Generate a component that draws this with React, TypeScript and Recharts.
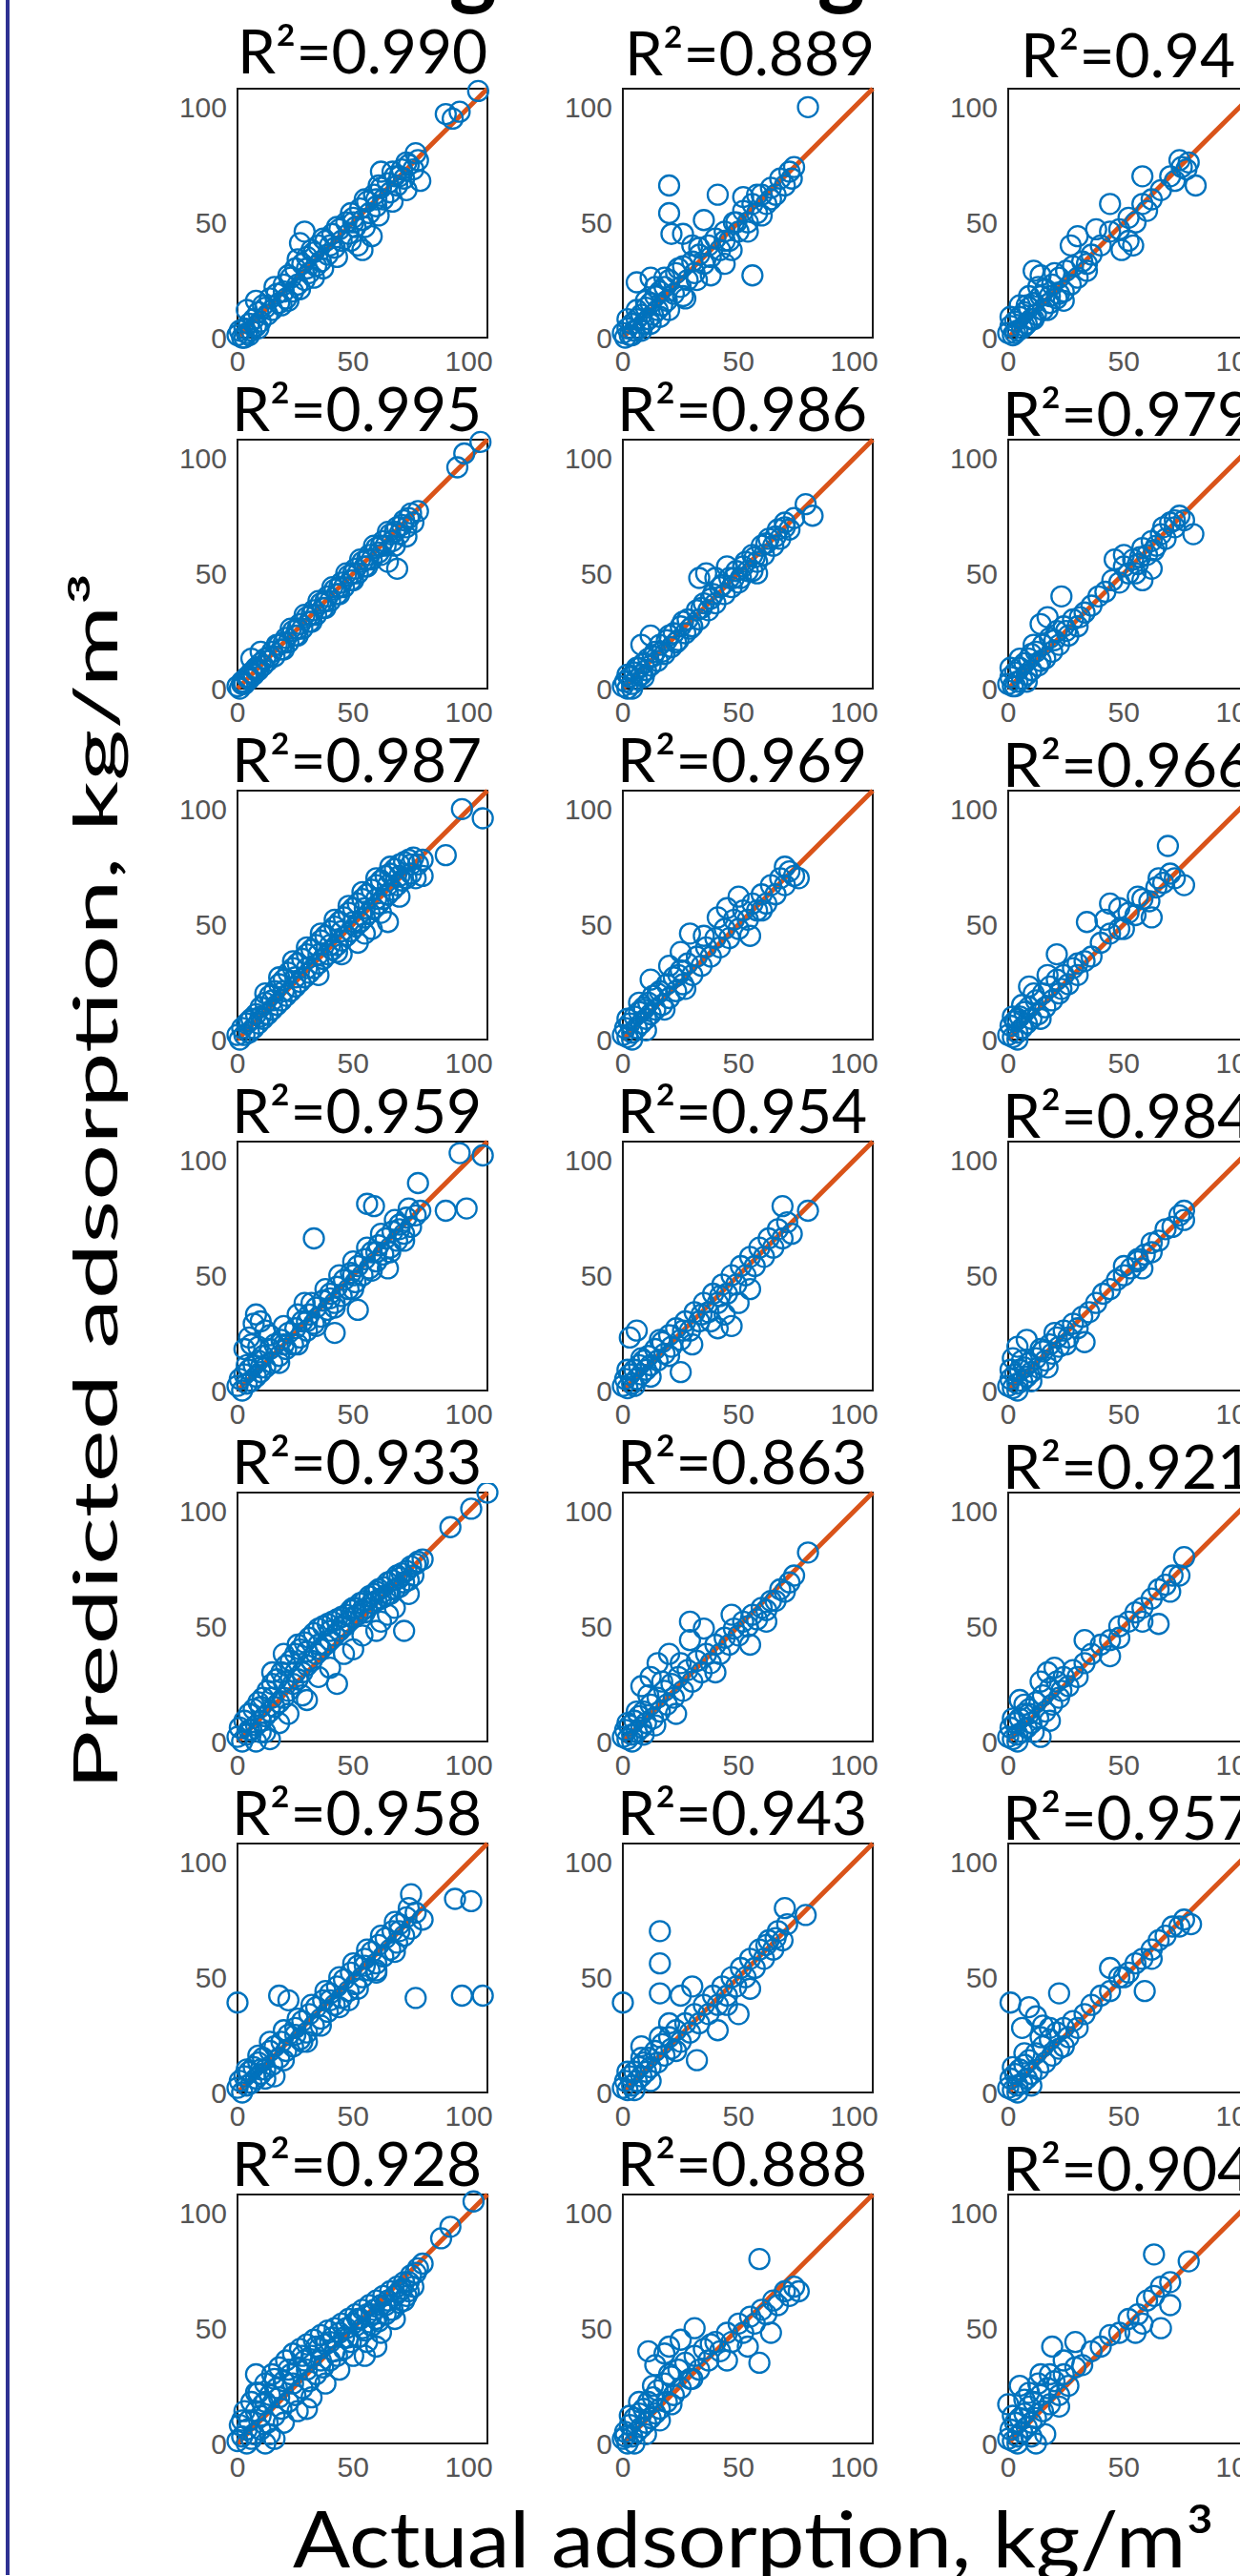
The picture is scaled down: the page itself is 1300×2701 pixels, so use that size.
import React from "react";
import {
  ScatterChart,
  Scatter,
  XAxis,
  YAxis,
  ReferenceArea,
  ReferenceLine,
} from "recharts";

type Pt = [number, number];

// axis settings shared by all 21 panels
const AXIS_MAX = 108;
const TICKS = [0, 50, 100];

const R2 = [
  "0.990", "0.889", "0.94",
  "0.995", "0.986", "0.979",
  "0.987", "0.969", "0.966",
  "0.959", "0.954", "0.984",
  "0.933", "0.863", "0.921",
  "0.958", "0.943", "0.957",
  "0.928", "0.888", "0.904",
];

const P11: Pt[] = [[0,1],[1,3],[2,0],[3,4],[4,2],[5,6],[6,3],[7,8],[8,5],[9,11],[10,7],[12,13],[13,10],[14,17],[15,12],[17,19],[18,15],[20,23],[21,17],[23,26],[24,20],[25,30],[26,23],[28,32],[29,25],[30,35],[31,28],[33,37],[34,31],[35,40],[36,33],[38,42],[39,36],[41,45],[42,39],[44,47],[45,42],[47,50],[48,45],[50,52],[51,48],[53,56],[54,51],[56,59],[57,54],[59,62],[60,57],[62,65],[63,60],[65,67],[66,63],[68,70],[69,66],[71,73],[72,69],[74,75],[76,73],[78,77],[29,46],[27,41],[58,44],[54,38],[52,40],[62,72],[79,68],[90,97],[93,95],[96,98],[104,107],[8,16],[4,12],
  [3,0],[5,1],[9,4],[11,14],[16,22],[19,14],[22,27],[22,16],[26,34],[27,21],[32,38],[33,26],[37,43],[37,30],[43,48],[43,35],[49,54],[49,42],[55,60],[55,48],[61,66],[61,53],[67,72],[67,59],[73,76],[73,64],[77,80],[20,20],[30,30],[40,40],[50,50],[60,60],[70,70]];
const P12: Pt[] = [[0,2],[1,0],[2,4],[3,1],[4,6],[5,3],[6,8],[7,4],[8,10],[9,6],[10,13],[11,8],[12,15],[13,10],[14,18],[15,12],[16,20],[17,14],[18,22],[19,16],[20,25],[22,19],[23,28],[25,22],[26,31],[28,25],[30,33],[31,28],[33,36],[35,32],[37,40],[38,35],[40,43],[42,38],[44,46],[46,42],[48,50],[50,46],[52,55],[54,50],[56,58],[58,54],[60,62],[62,58],[64,65],[66,62],[68,69],[70,66],[72,72],[73,69],[74,74],[20,66],[20,54],[21,45],[26,45],[41,62],[35,51],[56,27],[6,24],[44,32],[38,27],[49,50],[60,53],[64,60],[52,61],[58,62],[33,39],[32,25],[27,17],[44,42],[80,100],[12,26],[30,40],[47,38],[54,46],
  [2,8],[4,1],[6,12],[8,3],[10,16],[12,6],[14,22],[16,9],[18,26],[20,12],[24,30],[26,18]];
const P13: Pt[] = [[0,2],[1,5],[2,1],[3,7],[4,3],[5,9],[6,4],[7,11],[8,6],[9,13],[10,8],[11,15],[12,10],[14,18],[15,12],[16,21],[18,15],[19,23],[21,17],[22,26],[24,20],[25,29],[27,23],[28,31],[30,26],[32,33],[34,29],[36,36],[40,40],[44,46],[48,47],[52,52],[55,50],[58,58],[62,60],[66,64],[70,70],[72,68],[75,74],[78,76],[58,70],[44,58],[81,66],[49,38],[54,40],[52,42],[27,40],[30,44],[14,27],[11,29],[77,73],[74,77],[60,55],[38,47],[34,32],[22,19],[18,18],[8,14],
  [1,9],[3,2],[5,14],[7,5],[9,18],[11,8],[13,22],[17,12],[20,28],[24,16]];

const P21: Pt[] = [[0,1],[1,0],[2,3],[3,2],[4,5],[5,4],[6,7],[7,6],[8,9],[9,8],[10,11],[11,10],[12,13],[13,12],[15,16],[16,14],[18,19],[19,17],[21,22],[22,20],[24,25],[25,23],[27,28],[28,26],[30,31],[31,29],[33,34],[34,32],[36,37],[37,35],[39,40],[40,38],[42,43],[43,41],[45,46],[46,44],[48,49],[49,47],[51,52],[52,50],[54,55],[55,53],[57,58],[58,56],[60,61],[61,59],[63,64],[64,62],[66,67],[67,64],[69,70],[70,67],[72,73],[73,70],[75,76],[76,72],[78,77],[69,52],[65,55],[73,66],[95,96],[98,102],[105,107],[10,16],[6,13],
  [2,2],[5,5],[8,8],[14,14],[20,20],[26,26],[32,32],[38,38],[44,44],[50,50],[56,56],[62,62],[68,68],[74,74],[17,19],[23,26],[29,32],[35,38],[41,44],[47,50],[53,56],[59,62],[65,68],[71,71],[20,17],[26,23],[32,29],[38,35],[44,41],[50,47],[56,53],[62,58],[68,62]];
const P22: Pt[] = [[0,1],[1,3],[2,0],[3,5],[4,2],[5,7],[6,4],[7,9],[8,6],[9,11],[10,8],[11,13],[12,10],[14,16],[15,12],[16,19],[18,15],[19,21],[21,18],[22,24],[24,21],[25,27],[27,24],[28,30],[30,27],[32,34],[33,30],[35,37],[37,34],[39,41],[40,37],[42,44],[44,41],[46,48],[47,44],[49,51],[51,48],[53,55],[54,51],[56,58],[58,55],[60,62],[61,58],[63,65],[65,62],[67,69],[68,65],[70,72],[72,69],[74,74],[79,80],[82,75],[33,48],[36,50],[12,23],[8,19],[56,51],[50,46],[45,53],[40,48],[58,50],
  [2,6],[4,0],[6,9],[9,5],[13,14],[17,16],[20,23],[23,20],[26,29],[29,26],[34,35],[38,39],[43,45],[48,48],[52,53],[57,57],[62,63],[66,66],[70,70]];
const P23: Pt[] = [[0,2],[1,5],[2,1],[3,7],[4,3],[5,9],[6,4],[7,11],[8,6],[9,13],[10,8],[12,16],[13,10],[15,19],[16,13],[18,22],[19,16],[21,25],[22,19],[24,27],[26,23],[28,30],[30,27],[33,33],[36,36],[39,40],[42,42],[45,47],[48,46],[50,53],[52,50],[54,56],[56,54],[58,61],[60,58],[62,64],[64,62],[66,67],[68,65],[70,72],[72,70],[74,75],[76,73],[10,15],[17,31],[23,40],[14,28],[80,67],[72,73],[55,50],[58,47],[62,52],[50,58],[46,56],
  [1,9],[3,1],[5,13],[8,3],[11,19],[14,12],[20,21],[25,25],[31,31],[57,57],[63,60],[67,70]];

const P31: Pt[] = [[0,2],[1,0],[2,5],[3,2],[4,7],[5,3],[6,9],[7,5],[8,11],[9,7],[10,14],[11,9],[12,16],[13,11],[14,19],[15,13],[16,21],[17,15],[18,24],[19,17],[20,26],[21,19],[22,29],[23,21],[24,31],[25,23],[26,33],[27,25],[28,35],[29,27],[30,37],[31,29],[32,39],[33,31],[34,41],[35,33],[36,43],[37,35],[38,45],[39,37],[40,47],[41,39],[42,49],[43,41],[44,51],[45,43],[46,53],[47,45],[48,55],[49,47],[50,57],[51,49],[52,59],[53,51],[54,61],[55,53],[56,63],[57,55],[58,65],[59,57],[60,67],[61,59],[62,69],[63,61],[64,71],[65,63],[66,72],[67,65],[68,74],[69,67],[70,76],[71,69],[72,77],[73,70],[74,78],[75,72],[76,79],[78,76],[80,78],[97,100],[106,96],[90,80],[77,70],[65,51],[43,38],[58,48],[52,42],[80,71],
  [5,8],[10,10],[15,17],[20,21],[25,27],[30,31],[35,37],[40,41],[45,47],[50,51],[55,57],[60,61],[65,67],[70,71],[75,76],[12,20],[18,27],[24,34],[30,40],[36,46],[42,52],[48,58],[54,64],[60,70],[66,75],[35,28],[45,37],[55,46],[62,55],[70,62]];
const P32: Pt[] = [[0,2],[1,5],[2,1],[3,7],[4,3],[5,10],[6,5],[7,12],[8,7],[9,14],[10,9],[11,16],[12,11],[13,19],[14,13],[16,21],[17,15],[19,24],[20,18],[22,27],[23,21],[25,30],[26,24],[28,33],[30,28],[32,36],[34,32],[36,40],[38,36],[40,44],[42,40],[44,48],[46,44],[48,52],[50,48],[52,56],[54,52],[56,59],[58,56],[60,63],[62,59],[64,67],[66,63],[68,70],[70,67],[72,73],[74,71],[76,70],[70,75],[50,62],[55,45],[25,38],[29,46],[41,53],[12,26],[9,13],[45,57],[60,56],[35,45],[20,32],
  [2,9],[4,0],[7,16],[10,4],[15,20],[18,13],[24,28],[27,22]];
const P33: Pt[] = [[0,2],[1,6],[2,1],[3,8],[4,3],[5,10],[6,5],[7,12],[8,7],[9,14],[10,9],[12,17],[13,11],[15,20],[16,14],[18,23],[19,17],[21,26],[22,20],[24,28],[26,24],[28,31],[30,28],[33,34],[36,36],[40,42],[44,46],[48,48],[52,55],[55,54],[58,61],[61,60],[64,66],[67,68],[70,72],[72,70],[69,84],[76,67],[34,51],[44,59],[56,62],[62,53],[50,48],[21,37],[30,33],[9,23],[4,9],[48,57],[65,70],[42,52],
  [2,10],[4,0],[6,15],[11,20],[14,9],[17,28],[23,22]];

const P41: Pt[] = [[0,2],[1,5],[2,0],[3,7],[4,3],[5,9],[6,4],[7,11],[8,6],[9,13],[10,8],[11,15],[12,10],[14,18],[15,12],[16,20],[18,15],[19,22],[21,18],[22,25],[24,20],[25,27],[27,23],[28,30],[30,26],[31,33],[33,29],[34,36],[36,32],[37,39],[39,35],[40,42],[42,38],[43,45],[45,41],[46,48],[48,44],[49,51],[51,47],[52,54],[54,50],[55,57],[57,53],[58,60],[60,56],[61,63],[63,59],[64,66],[66,62],[67,69],[69,65],[70,72],[72,68],[73,75],[75,71],[77,76],[79,78],[96,103],[106,102],[78,90],[56,81],[59,80],[90,78],[99,79],[33,66],[65,53],[52,35],[42,25],[29,38],[8,33],[5,23],[7,29],[10,30],[12,26],[3,18],[6,20],
  [4,11],[9,19],[14,24],[20,28],[26,33],[32,38],[38,44],[44,50],[50,56],[56,62],[62,68],[68,74],[74,79],[18,12],[26,20],[34,28],[42,36],[50,44],[58,52],[66,60],[72,65],[10,10],[20,20],[30,30],[40,40],[50,50],[60,60],[70,70]];
const P42: Pt[] = [[0,2],[1,5],[2,1],[3,7],[4,3],[5,9],[6,5],[7,11],[8,7],[9,13],[10,9],[11,15],[12,11],[14,18],[15,13],[17,21],[18,16],[20,24],[21,19],[23,27],[25,22],[27,30],[29,26],[31,34],[33,30],[35,38],[37,34],[39,42],[41,38],[43,46],[45,42],[47,50],[49,46],[51,54],[53,50],[55,58],[57,54],[59,62],[61,58],[63,66],[65,62],[67,70],[69,66],[71,73],[69,80],[80,78],[55,44],[47,28],[25,8],[3,23],[6,26],[41,27],[44,33],[50,38],[38,30],[30,20],[73,68],
  [2,9],[5,2],[8,14],[12,6],[16,22],[20,15],[26,26],[34,33],[42,41]];
const P43: Pt[] = [[0,2],[1,5],[2,1],[3,7],[4,3],[5,9],[6,4],[7,10],[8,6],[9,12],[10,8],[12,14],[13,10],[15,17],[16,13],[18,20],[19,16],[21,23],[22,19],[24,26],[26,23],[28,29],[30,27],[32,32],[35,34],[38,38],[41,42],[44,44],[47,48],[50,50],[53,53],[56,57],[59,59],[62,64],[65,65],[68,70],[71,71],[74,76],[76,74],[76,78],[56,56],[33,21],[4,19],[2,14],[8,22],[58,53],[50,54],[62,60],
  [1,9],[4,0],[6,13],[10,4],[14,18],[17,10],[20,25],[25,20]];

const P51: Pt[] = [[0,2],[1,6],[2,0],[3,9],[4,3],[5,12],[6,5],[7,14],[8,7],[9,17],[10,9],[11,19],[12,11],[13,22],[14,13],[15,25],[16,15],[17,27],[18,17],[19,30],[20,19],[21,33],[22,22],[23,35],[24,25],[25,38],[26,27],[27,40],[28,30],[29,43],[30,33],[31,45],[32,35],[33,47],[34,38],[35,49],[36,40],[37,50],[38,42],[39,51],[40,44],[41,52],[42,46],[43,53],[44,48],[45,54],[46,50],[47,55],[48,52],[49,57],[50,54],[51,58],[52,55],[53,60],[54,57],[55,61],[56,58],[57,63],[58,60],[59,64],[60,61],[61,66],[62,62],[63,67],[64,63],[65,69],[66,64],[67,70],[68,66],[69,72],[70,67],[71,73],[72,69],[73,74],[74,70],[75,76],[76,72],[78,78],[80,79],[108,108],[101,101],[92,93],[77,77],[72,48],[43,25],[14,1],[10,4],[18,8],[30,18],[20,38],[26,42],[35,28],[50,40],[60,48],[65,55],[8,0],[15,30],
  [5,5],[10,15],[15,19],[20,26],[25,30],[30,39],[35,42],[40,48],[45,50],[50,58],[55,56],[60,65],[65,64],[70,71],[12,4],[22,12],[28,20],[40,32],[46,38],[54,46],[62,52],[68,58],[74,64]];
const P52: Pt[] = [[0,2],[1,5],[2,1],[3,7],[4,3],[5,9],[6,4],[7,11],[8,6],[9,13],[10,8],[12,16],[13,10],[15,19],[16,13],[18,22],[19,16],[21,25],[22,19],[24,28],[26,22],[28,31],[30,26],[32,35],[34,30],[36,38],[38,34],[40,42],[42,38],[44,45],[46,42],[48,49],[50,46],[52,52],[54,50],[56,55],[58,53],[60,58],[62,57],[64,61],[66,61],[68,66],[70,65],[72,69],[74,72],[80,82],[55,42],[23,12],[29,44],[35,49],[29,52],[15,34],[47,55],[8,24],[12,28],[40,30],[62,52],[20,38],
  [2,8],[4,0],[6,13],[9,3],[11,20],[14,7],[17,26],[25,34]];
const P53: Pt[] = [[0,2],[1,6],[2,1],[3,8],[4,3],[5,10],[6,4],[7,12],[8,6],[9,14],[10,8],[12,17],[13,10],[15,20],[16,13],[18,23],[19,16],[21,26],[22,19],[24,28],[26,24],[28,31],[30,28],[33,34],[36,38],[40,42],[44,44],[48,50],[52,52],[55,56],[58,58],[62,62],[65,66],[68,68],[71,72],[74,72],[76,80],[65,51],[33,44],[44,37],[18,9],[9,12],[14,26],[5,18],[20,32],[48,45],[58,52],[70,65],
  [2,10],[4,0],[7,16],[11,4],[14,2],[17,30],[23,22]];

const P61: Pt[] = [[0,2],[1,5],[2,0],[3,7],[4,3],[5,9],[6,4],[7,11],[8,6],[9,13],[10,8],[11,15],[12,10],[14,18],[15,12],[16,20],[18,15],[19,22],[21,18],[22,25],[24,20],[25,28],[27,23],[28,31],[30,26],[31,34],[33,29],[34,37],[36,32],[37,40],[39,35],[40,43],[42,38],[43,46],[45,41],[46,49],[48,44],[49,52],[51,47],[52,55],[54,50],[55,58],[57,53],[58,61],[60,56],[61,64],[63,59],[64,67],[66,62],[67,70],[69,65],[70,73],[72,68],[73,76],[75,71],[77,78],[0,39],[18,42],[77,41],[97,42],[106,42],[94,84],[101,83],[75,86],[16,7],[22,40],[80,75],[48,40],[60,52],[30,22],
  [4,10],[9,16],[14,22],[20,27],[26,32],[32,38],[38,44],[44,50],[50,56],[56,62],[62,68],[68,74],[74,80],[12,6],[20,14],[28,22],[36,29],[44,37],[52,45],[60,53],[68,61],[10,10],[25,25],[40,40],[55,55],[70,70]];
const P62: Pt[] = [[0,2],[1,5],[2,1],[3,7],[4,3],[5,9],[6,5],[7,11],[8,7],[9,13],[10,9],[11,15],[12,11],[14,18],[15,13],[17,21],[18,16],[20,24],[21,19],[23,27],[25,22],[27,30],[29,26],[31,34],[33,30],[35,38],[37,34],[39,42],[41,38],[43,46],[45,42],[47,50],[49,46],[51,54],[53,50],[55,58],[57,54],[59,62],[61,58],[63,66],[65,62],[67,70],[69,66],[71,73],[16,70],[16,56],[16,43],[0,39],[32,14],[41,27],[50,34],[79,77],[70,80],[25,42],[30,46],[8,20],[45,38],[55,45],
  [2,9],[5,1],[8,15],[12,5],[16,24],[20,30],[23,18],[62,64],[66,67]];
const P63: Pt[] = [[0,2],[1,6],[2,1],[3,8],[4,3],[5,10],[6,4],[7,12],[8,6],[9,14],[10,8],[12,17],[13,10],[15,20],[16,13],[18,23],[19,16],[21,26],[22,19],[24,28],[26,24],[28,31],[30,28],[33,34],[36,38],[40,42],[44,44],[48,50],[52,52],[55,56],[58,58],[62,62],[65,66],[68,68],[71,72],[74,72],[1,39],[22,43],[9,37],[15,29],[76,75],[79,73],[59,44],[44,54],[12,33],[6,28],[50,50],[62,58],
  [2,11],[4,0],[7,17],[10,3],[14,24],[18,28],[24,20]];

const P71: Pt[] = [[0,1],[1,8],[2,3],[3,14],[4,0],[5,10],[6,18],[7,4],[8,14],[9,22],[10,6],[11,17],[12,26],[13,9],[14,21],[15,30],[16,12],[17,24],[18,33],[19,15],[20,27],[21,36],[22,18],[23,30],[24,39],[25,21],[26,33],[27,41],[28,24],[29,36],[30,43],[31,27],[32,38],[33,45],[34,30],[35,41],[36,47],[37,33],[38,43],[39,49],[40,36],[41,46],[42,50],[43,38],[44,48],[45,52],[46,41],[47,50],[48,54],[49,44],[50,52],[51,56],[52,46],[53,54],[54,58],[55,49],[56,56],[57,60],[58,51],[59,58],[60,62],[61,53],[62,60],[63,64],[64,56],[65,62],[66,66],[67,58],[68,64],[69,68],[70,61],[71,67],[72,70],[73,64],[74,70],[75,73],[76,68],[77,74],[78,76],[80,78],[102,105],[92,94],[88,89],[12,0],[16,2],[55,38],[60,42],[30,15],[8,30],
  [2,10],[4,6],[6,2],[8,22],[10,12],[12,18],[14,4],[16,28],[18,20],[20,9],[22,32],[24,26],[26,14],[28,38],[30,32],[32,20],[34,42],[36,36],[38,26],[40,44],[42,40],[44,32],[46,46],[48,46],[50,38],[52,54],[54,50],[56,44],[58,56],[60,54],[62,48],[64,60],[66,58],[68,54],[70,66],[72,62],[74,66]];
const P72: Pt[] = [[0,2],[1,5],[2,0],[3,8],[4,3],[5,11],[6,5],[7,13],[8,7],[9,15],[10,9],[11,18],[12,11],[13,20],[14,13],[15,23],[16,15],[18,26],[19,18],[21,29],[22,21],[24,32],[25,24],[27,35],[29,28],[31,38],[33,32],[35,41],[37,36],[40,44],[42,40],[45,48],[47,44],[50,52],[52,48],[55,55],[57,52],[60,58],[62,56],[65,62],[67,60],[70,66],[72,64],[74,68],[59,80],[76,66],[59,35],[38,43],[18,39],[11,40],[31,50],[21,17],[1,3],[14,34],[25,45],[20,42],[45,36],[64,48],[54,42],[30,28],
  [3,12],[5,0],[7,18],[10,4],[13,25],[16,10],[20,30]];
const P73: Pt[] = [[0,2],[1,6],[2,1],[3,9],[4,3],[5,11],[6,5],[7,13],[8,7],[9,16],[10,9],[11,18],[12,11],[14,21],[15,14],[17,24],[18,17],[20,27],[22,21],[24,30],[26,25],[29,33],[32,34],[36,40],[40,42],[44,47],[48,48],[52,54],[56,56],[60,62],[63,64],[66,68],[70,70],[63,82],[78,79],[19,42],[29,44],[66,50],[9,22],[0,17],[14,30],[24,36],[12,0],[16,4],[58,52],[55,48],[70,60],[5,25],
  [2,12],[4,0],[7,19],[10,3],[13,26],[18,30],[22,16]];

const PANELS = [P11, P12, P13, P21, P22, P23, P31, P32, P33, P41, P42, P43, P51, P52, P53, P61, P62, P63, P71, P72, P73];

const BOX_LEFT = 249;
const BOX_TOP = 93;
const COL_STEP = 404;
const ROW_STEP = 368;
const BOX_W = 262;
const BOX_H = 261;
const Y_AXIS_W = 72;

const BLUE = "#0072BD";
const ORANGE = "#D95319";

const Ring = (props: any) => (
  <circle cx={props.cx} cy={props.cy} r={10.5} fill="none" stroke={BLUE} strokeWidth={2.3} />
);

const tickStyle = { fill: "#555", fontSize: 30, fontFamily: "'Liberation Sans', Arial, sans-serif" };

function Panel({ pts, row, col }: { pts: Pt[]; row: number; col: number }) {
  const data = pts.map(([x, y]) => ({ x, y }));
  const left = BOX_LEFT + col * COL_STEP;
  const top = BOX_TOP + row * ROW_STEP;
  return (
    <div style={{ position: "absolute", left: left - Y_AXIS_W, top: top - 10 }}>
      <ScatterChart width={BOX_W + Y_AXIS_W + 24} height={BOX_H + 60} margin={{ top: 10, right: 24, bottom: 0, left: 0 }}>
        <XAxis
          type="number"
          dataKey="x"
          domain={[0, AXIS_MAX]}
          ticks={TICKS}
          interval={0}
          axisLine={false}
          tickLine={false}
          tickSize={6}
          tickMargin={8}
          height={50}
          tick={tickStyle}
        />
        <YAxis
          type="number"
          dataKey="y"
          domain={[0, AXIS_MAX]}
          ticks={TICKS}
          interval={0}
          axisLine={false}
          tickLine={false}
          tickSize={6}
          tickMargin={5}
          width={Y_AXIS_W}
          tick={tickStyle}
        />
        <ReferenceArea x1={0} x2={AXIS_MAX} y1={0} y2={AXIS_MAX} fill="none" fillOpacity={0} stroke="#1a1a1a" strokeWidth={2} strokeOpacity={1} />
        <Scatter data={data} shape={Ring} isAnimationActive={false} />
        <ReferenceLine
          segment={[{ x: 0, y: 0 }, { x: AXIS_MAX, y: AXIS_MAX }]}
          stroke={ORANGE}
          strokeWidth={5}
        />
      </ScatterChart>
    </div>
  );
}

const calibri = "Lato, 'Open Sans', sans-serif";

export default function App() {
  return (
    <div
      style={{
        position: "absolute",
        left: 0,
        top: 0,
        width: 1300,
        height: 2701,
        overflow: "hidden",
        background: "#fff",
      }}
    >
      <div style={{ position: "absolute", left: 6, top: 0, width: 4, height: 2700, background: "#2E3192" }} />
      {PANELS.map((pts, i) => (
        <Panel key={i} pts={pts} row={Math.floor(i / 3)} col={i % 3} />
      ))}
      <svg width={1300} height={2701} style={{ position: "absolute", left: 0, top: 0, pointerEvents: "none" }}>
        <text x={521} y={-2} textAnchor="end" fontFamily={calibri} fontWeight={700} fontSize={95} fill="#000">
          Training
        </text>
        <text x={907} y={-2} textAnchor="end" fontFamily={calibri} fontWeight={700} fontSize={95} fill="#000">
          Testing
        </text>
        {R2.map((v, i) => {
          const row = Math.floor(i / 3);
          const col = i % 3;
          const bx = BOX_LEFT + col * COL_STEP;
          const by = BOX_TOP + row * ROW_STEP;
          const x = row === 0 ? bx + [0, 2, 13][col] : bx - 6;
          const y = row === 0 ? by - 16 + col * 2 : by - (col === 2 ? 4 : 9);
          return (
            <text key={i} x={x} y={y} fontFamily={calibri} fontSize={64} fill="#000">
              {`R²=${v}`}
            </text>
          );
        })}
        <text
          x={123}
          y={1877}
          transform="rotate(-90 123 1877)"
          fontFamily={calibri}
          fontSize={63}
          textLength={1277}
          lengthAdjust="spacingAndGlyphs"
          fill="#000"
        >
          Predicted adsorption, kg/m³
        </text>
        <text
          x={307}
          y={2692}
          fontFamily={calibri}
          fontSize={81}
          textLength={966}
          lengthAdjust="spacingAndGlyphs"
          fill="#000"
        >
          Actual adsorption, kg/m³
        </text>
      </svg>
    </div>
  );
}
